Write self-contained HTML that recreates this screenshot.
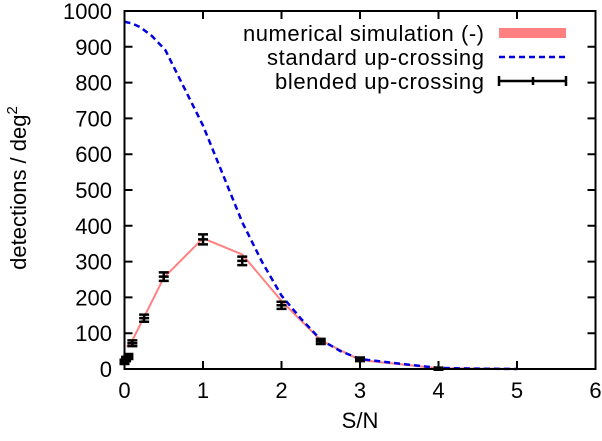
<!DOCTYPE html>
<html><head><meta charset="utf-8"><style>
body{margin:0;background:#fff}
svg text{font-family:"Liberation Sans",sans-serif;font-size:22px;fill:#000}
</style></head><body>
<svg width="602" height="436" xmlns="http://www.w3.org/2000/svg">
<g id="ticks"></g>
<g id="series"></g>
<rect x="124.5" y="11" width="471" height="358" fill="none" stroke="#000" stroke-width="2"/>
<text x="360" y="428" text-anchor="middle">S/N</text>
<text transform="translate(26,188) rotate(-90)" text-anchor="middle">detections / deg<tspan dy="-9" font-size="15">2</tspan></text>
<g>
<text x="484" y="41" text-anchor="end" textLength="241">numerical simulation (-)</text>
<rect x="499" y="28" width="67" height="10" fill="#ff8080"/>
<text x="484" y="65" text-anchor="end" textLength="217">standard up-crossing</text>
<line x1="499" y1="57" x2="566" y2="57" stroke="#0000e0" stroke-width="2.5" stroke-dasharray="6,4"/>
<text x="484" y="89" text-anchor="end" textLength="209">blended up-crossing</text>
<path d="M499 81H566M499 76V86M566 76V86M533 77V85" stroke="#000" stroke-width="2.5" fill="none"/>
</g>
</svg>
<script>
const xTicks=[0,1,2,3,4,5,6];
const yTicks=[0,100,200,300,400,500,600,700,800,900,1000];
const simX=[0.03,0.1,0.25,0.5,1,1.5,2,2.5,3,4,5];
const simY=[62,80,145,255,365,320,190,80,25,2,0];
const stdX=[0,0.1,0.2,0.35,0.52,0.75,1,1.25,1.5,1.75,2,2.25,2.5,2.75,3,3.5,4,4.5,5];
const stdY=[970,965,955,930,891,790,680,545,410,300,205,140,82,50,28,15,3,1,0];
const ptX=[0,0.02,0.05,0.1,0.25,0.5,1,1.5,2,2.5,3,4];
const ptY=[20,28,35,72,142,258,362,302,178,77,27,1];
const ptErr=[6,6,7,8,10,12,14,12,10,7,5,3];
const sx=v=>124.5+v*78.5, sy=v=>369-v*0.358;
const NS='http://www.w3.org/2000/svg';
const T=document.getElementById('ticks'), S=document.getElementById('series');
function mk(tag,attrs,parent){const e=document.createElementNS(NS,tag);for(const k in attrs)e.setAttribute(k,attrs[k]);parent.appendChild(e);return e;}
xTicks.forEach(v=>{
 const l=mk('path',{d:`M${sx(v)} 369v-8M${sx(v)} 11v8`,stroke:'#000','stroke-width':2},T);
 
 
 const t=mk('text',{x:sx(v),y:398,'text-anchor':'middle'},T);t.textContent=v;
 
 
});
yTicks.forEach(v=>{
 const l=mk('path',{d:`M124.5 ${sy(v)}h8M595.5 ${sy(v)}h-8`,stroke:'#000','stroke-width':2},T);
 
 
 const t=mk('text',{x:112,y:sy(v)+8,'text-anchor':'end'},T);t.textContent=v;
 
 
});
const sim=mk('polyline',{points:simX.map((x,i)=>sx(x)+','+sy(simY[i])).join(' '),fill:'none',stroke:'#ff8080','stroke-width':2},S);


const std=mk('polyline',{points:stdX.map((x,i)=>sx(x)+','+sy(stdY[i])).join(' '),fill:'none',stroke:'#0000e0','stroke-width':2.5,'stroke-dasharray':'6,4'},S);


ptX.forEach((x,i)=>{
 const X=sx(x),y1=sy(ptY[i]-ptErr[i]),y2=sy(ptY[i]+ptErr[i]);
 const p=mk('path',{d:`M${X} ${y1}V${y2}M${X-5} ${y1}h10M${X-5} ${y2}h10M${X-5} ${sy(ptY[i])}h10`,stroke:'#000','stroke-width':2.5,fill:'none'},S);
 
 
});
</script>
</body></html>
